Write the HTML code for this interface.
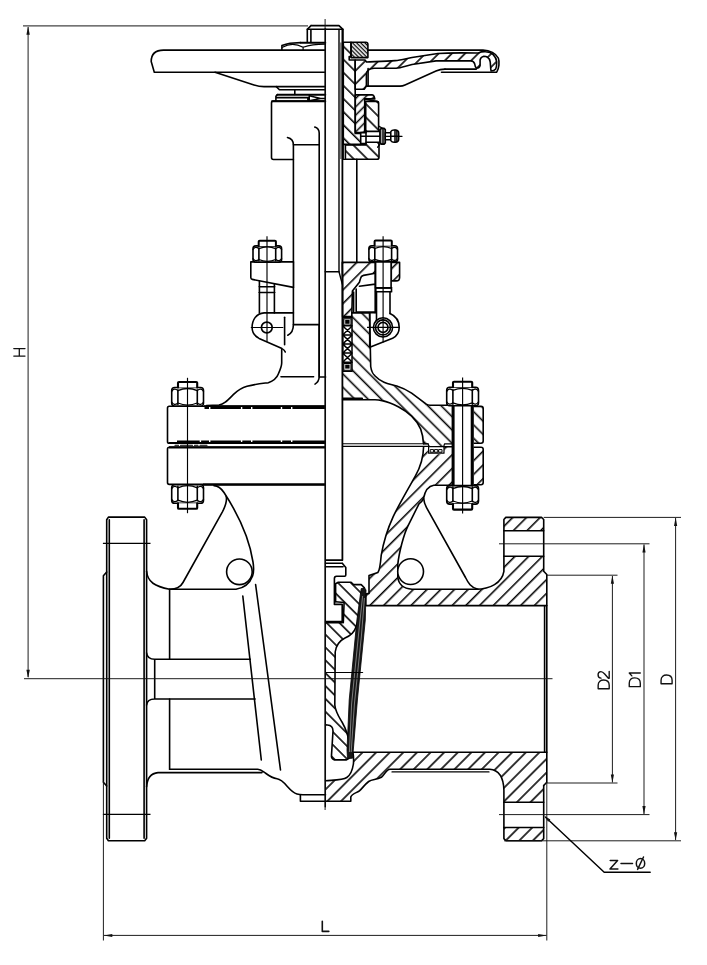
<!DOCTYPE html>
<html>
<head>
<meta charset="utf-8">
<title>Gate valve drawing</title>
<style>
html,body{margin:0;padding:0;background:#fff;}
body{width:707px;height:965px;overflow:hidden;font-family:"Liberation Sans",sans-serif;}
svg{display:block;position:absolute;left:0;top:0;}
.k{fill:none;stroke:#000;stroke-width:1.6;stroke-linecap:round;stroke-linejoin:round;}
.kw{fill:#fff;stroke:#000;stroke-width:1.6;stroke-linecap:round;stroke-linejoin:round;}
.t{fill:none;stroke:#000;stroke-width:0.85;stroke-linecap:butt;}
.tw{fill:#fff;stroke:#000;stroke-width:0.85;}
.d{fill:none;stroke:#111;stroke-width:0.95;}
.c{fill:none;stroke:#000;stroke-width:1.15;}
.dg{fill:none;stroke:#444;stroke-width:1.1;}
.ar{fill:#111;stroke:none;}
.tx{fill:none;stroke:#111;stroke-width:1.3;stroke-linecap:round;stroke-linejoin:round;}
.hs{stroke:none;}
</style>
</head>
<body>
<svg width="707" height="965" viewBox="0 0 707 965">
<defs>
<!-- "/" hatches -->
<pattern id="hF" width="9.69" height="9.69" patternUnits="userSpaceOnUse" patternTransform="rotate(45)"><line x1="1.7" y1="-1" x2="1.7" y2="11" stroke="#000" stroke-width="1.55"/></pattern>
<pattern id="hF2" width="7" height="7" patternUnits="userSpaceOnUse" patternTransform="rotate(45)"><line x1="3.5" y1="-1" x2="3.5" y2="9" stroke="#000" stroke-width="1.55"/></pattern>
<pattern id="hF3" width="5.9" height="5.9" patternUnits="userSpaceOnUse" patternTransform="rotate(45)"><line x1="2.5" y1="-1" x2="2.5" y2="8" stroke="#000" stroke-width="1.5"/></pattern>
<!-- "\" hatches -->
<pattern id="hB" width="7.2" height="7.2" patternUnits="userSpaceOnUse" patternTransform="rotate(-45)"><line x1="3.6" y1="-1" x2="3.6" y2="9" stroke="#000" stroke-width="1.55"/></pattern>
<pattern id="hB2" width="9.5" height="9.5" patternUnits="userSpaceOnUse" patternTransform="rotate(-45)"><line x1="4.75" y1="-1" x2="4.75" y2="11" stroke="#000" stroke-width="1.55"/></pattern>
<pattern id="hBd" width="2.9" height="2.9" patternUnits="userSpaceOnUse" patternTransform="rotate(-45)"><line x1="1.45" y1="-1" x2="1.45" y2="4" stroke="#000" stroke-width="1.3"/></pattern>
<pattern id="hX" width="4.4" height="4.4" patternUnits="userSpaceOnUse" patternTransform="translate(342.8 318) rotate(45)"><path d="M0,-1V6M-1,0H6" stroke="#000" stroke-width="0.9" fill="none"/></pattern>
<pattern id="hBw" width="9.4" height="9.4" patternUnits="userSpaceOnUse" patternTransform="rotate(-45)"><line x1="6.2" y1="-1" x2="6.2" y2="11" stroke="#000" stroke-width="1.55"/></pattern>
<pattern id="hFs" width="9.33" height="9.33" patternUnits="userSpaceOnUse" patternTransform="rotate(45)"><line x1="2.83" y1="-1" x2="2.83" y2="11" stroke="#000" stroke-width="1.55"/></pattern>
<pattern id="hBg" width="9.09" height="9.09" patternUnits="userSpaceOnUse" patternTransform="rotate(-45) translate(4.15 0)"><line x1="4.545" y1="-1" x2="4.545" y2="11" stroke="#000" stroke-width="1.55"/></pattern>
<pattern id="hBs" width="9.26" height="9.26" patternUnits="userSpaceOnUse" patternTransform="rotate(-45)"><line x1="6.29" y1="-1" x2="6.29" y2="11" stroke="#000" stroke-width="1.55"/></pattern>
<pattern id="hFl" width="9.62" height="9.62" patternUnits="userSpaceOnUse" patternTransform="rotate(45) translate(4.39 0)"><line x1="4.81" y1="-1" x2="4.81" y2="11" stroke="#000" stroke-width="1.55"/></pattern>
</defs>
<rect x="0" y="0" width="707" height="965" fill="#fff"/>


<!--BEGIN:TEXT-->
<g id="text" font-family="Liberation Sans, sans-serif" fill="#111">
<path class="tx" d="M13.8,348.6 H25 M13.8,356.1 H25 M19.3,348.6 V356.1"/>
<path class="tx" style="stroke-width:1.5" transform="translate(609.2,689.4) rotate(-90) scale(0.92)" d="M0.7,0 V-12 H4.4 C8.8,-12 10.2,-9.2 10.2,-6 C10.2,-2.8 8.8,0 4.4,0 Z M12.2,-8.9 C12.2,-10.9 13.7,-12.1 15.8,-12.1 C17.9,-12.1 19.3,-10.9 19.3,-9 C19.3,-7.3 18.2,-6.2 16.7,-4.9 L12.1,-0.9 V0 H19.6"/>
<path class="tx" style="stroke-width:1.5" transform="translate(640.3,687.3) rotate(-90) scale(0.92)" d="M0.7,0 V-12 H4.4 C8.8,-12 10.2,-9.2 10.2,-6 C10.2,-2.8 8.8,0 4.4,0 Z M12.4,-9.2 L15.6,-12 V0"/>
<path class="tx" style="stroke-width:1.5" transform="translate(672.1,684.4) rotate(-90) scale(0.92)" d="M0.7,0 V-12 H4.4 C8.8,-12 10.2,-9.2 10.2,-6 C10.2,-2.8 8.8,0 4.4,0 Z"/>
<path class="tx" style="stroke-width:1.6" d="M322.3,921.2 V931.4 H328.8"/>
<path class="tx" style="stroke-width:1.5" d="M610.2,860.6 H617.6 L610,869 H617.9 M621,863.4 H632.5 M637.6,869.4 L643.5,857"/>
<ellipse class="tx" style="stroke-width:1.5" cx="640.5" cy="863.4" rx="4.2" ry="4.8"/>
</g>
<!--END:TEXT-->
<!--BEGIN:LEFTFLANGE-->
<g id="leftflange">
<path class="k" d="M108.4,517.1 L144.7,517.1 L146.6,519.7 L146.6,838.2 L144.7,840.8 L108.4,840.8 L106.7,838.2 L106.7,519.7 Z"/>
<path class="k" d="M109.3,519.7 V838.2 M144.1,519.7 V838.2"/>
<path class="k" d="M106.7,572 L103.4,575.8 L103.4,782.2 L106.7,786"/>
<path class="c" d="M102.9,543.3 H150.5 M102.9,814.4 H150.5"/>
</g>
<!--END:LEFTFLANGE-->
<!--BEGIN:LEFTBODY-->
<g id="leftbody">
<!-- fillets flange/body -->
<path class="k" d="M146.6,571.3 C147.5,582 155,586.5 169.6,589.3 H236 C244,588 250,583 252.6,576 C254,572 253.8,567 253,562 C249,536 238,514 224,492.5 C221,488 218,485.8 214,485.6"/>
<path class="k" d="M146.6,786.7 C147.2,778 150.5,773.2 158,772.6 H262"/>
<!-- rib line -->
<path class="k" d="M169.6,589.3 C176,589 180,588 183,582.5 L222.4,511.9 C225.5,506 227,500 226.2,496.6"/>
<circle class="k" cx="239.4" cy="571.8" r="12.8"/>
<path class="k" d="M169.6,589.3 V659.2 M169.6,699 V769.2"/>
<!-- horizontal rib -->
<path class="k" d="M146.6,653 C147,657 150,659.2 154.7,659.2 H250.3 M146.6,705 C147,701 150,699 154.7,699 H255.1 M154.7,659.2 V699"/>
<!-- diagonal lines -->
<path class="k" d="M242.8,596 L261.3,760 M255.6,584.5 L280.5,770"/>
<!-- bottom -->
<path class="k" d="M169.6,769.2 H257.7 C261,769.4 263,771.5 266,773.5 C270,776.5 273,778.2 277,778.8 C281,779.4 283.5,782 287.1,786.2 C290.5,790 293.5,793 297,794 C299,794.6 301,794.7 303,794.7 H325.5"/>
<path class="k" d="M300.4,794.7 V801.3 H325.5"/>
</g>
<!--END:LEFTBODY-->
<!--BEGIN:RIGHTBODY-->
<g id="rightbody">
<!-- upper body section (hatched /) -->
<path id="ub" fill="url(#hF)" class="hs" d="M423.6,446.7 H453 V485.3 H433.8 C429,486 425,491 423.6,498.2 C422,502 420,503 419,503.8 L408,525.9 C404,534 399,552 397.8,564.6 V577 C398.5,584 403,588.5 412,589.2 H476 C490,589 502,583 503.9,571.3 V519.5 L505.8,517.4 H541.5 L543.7,519.5 V571.3 L546.8,574.5 V605.6 H365.8 V594 L369,593.4 V575.6 L377.9,572.4 C380,570 380.3,566 381.2,555.4 C383,545 388,528 393.2,516.7 C398,506 408,489 415.3,476.1 C421,466 423.4,458 423.6,446.7 Z"/>
<rect x="503" y="530.7" width="42" height="25.5" fill="#fff"/>
<rect x="427.8" y="447.4" width="16.4" height="6.8" fill="#fff"/>
<path class="k" d="M423.6,446.7 C423.4,458 421,466 415.3,476.1 C408,489 398,506 393.2,516.7 C388,528 383,545 381.2,555.4 C380.3,566 380,570 377.9,572.4 L369,575.6 V593.4 L365.8,594 V605.6 H546.8"/>
<path class="k" d="M451.5,485.3 H433.8 C429,486 425,491 423.6,498.2 C422,502 420,503 419,503.8 L408,525.9 C404,534 399,552 397.8,564.6 V577 C398.5,584 403,588.5 412,589.2 H476 C490,589 502,583 503.9,571.3 V519.5 L505.8,517.4 H541.5 L543.7,519.5 V571.3 L546.8,574.5 V782.2 L543.7,785.5"/>
<path class="k" d="M544.6,606 V752"/>
<path class="k" d="M503.9,530.7 H543.7 M503.9,556.2 H543.7"/>
<circle class="kw" cx="410.6" cy="571.6" r="12.9"/>
<!-- external rib right -->
<path class="k" d="M423.6,498.2 C424,502 425,505 426.4,507.4 L465.5,577.5 C468,582.5 471,588 478,589.2"/>
<!-- lower body section -->
<path fill="url(#hFl)" class="hs" d="M352.9,752.3 H546.8 V782.2 L543.7,785.5 V838.6 L541.5,840.8 H506 L503.9,838.6 V790 C503.5,777 499,770 489.7,769.2 H390 C386,769.5 385,774.5 381.4,777.3 C376,780 372,779 368.7,781.5 C364,785 362,789 359.2,791 C356,793 351.5,794 350.8,797 V801.3 H325.6 V780.8 C335,780 343,780 346.8,777.5 C350.5,775 352.5,770 353.4,764 C353.8,760 353.6,756 352.9,752.3 Z"/>
<rect x="503" y="802.3" width="42" height="25.2" fill="#fff"/>
<path class="k" d="M352.9,752.3 H546.8"/>
<path class="k" d="M543.7,785.5 V838.6 L541.5,840.8 H506 L503.9,838.6 V790 C503.5,777 499,770 489.7,769.2 H390 C386,769.5 385,774.5 381.4,777.3 C376,780 372,779 368.7,781.5 C364,785 362,789 359.2,791 C356,793 351.5,794 350.8,797 V801.3 H325.6"/>
<path class="k" d="M325.6,780.8 C335,780 343,780 346.8,777.5 C350.5,775 352.5,770 353.4,764 C353.8,760 353.6,756 352.9,752.3"/>
<path class="k" style="stroke-width:1.2" d="M392,771.9 H489"/>
<path class="k" d="M503.9,802.3 H543.7 M503.9,827.5 H543.7"/>
<!-- wedge -->
<path fill="url(#hBg)" class="hs" d="M335.6,583.8 L338.3,582.2 H351.1 L353.5,584.6 H361.2 L364.4,587.7 V601 C361,612 358,622 356,627 C354,633 350,636 345,638 C339,641 336,646 335.2,652 L334.8,705 C335.5,712 339,717 342,722 C346,729 348.5,736 349.8,745 L349,758.3 L346.5,759.9 H334.5 C332,759 331.2,757 331.5,755.1 L333,731 C333,727 331,725.2 327.5,725 H325.6 V622.7 H343.3 L344.1,602.5 L335.6,601.7 Z"/>
<path class="k" d="M335.6,601.7 V583.8 L338.3,582.2 H351.1 L353.5,584.6 H361.2 L364.4,587.7"/>
<path class="k" d="M361,603 C360,612 358,622 356,627 C354,633 350,636 345,638 C339,641 336,646 335.2,652 L334.8,705 C335.5,712 339,717 342,722 C346,729 348.5,736 349.8,745"/>
<path class="k" d="M349,758.3 L346.5,759.9 H334.5 C332,759 331.2,757 331.5,755.1 L333,731 C333,727 331,725.2 327.5,725 H325.6"/>
<path class="k" d="M335.6,601.7 L344.1,602.5 L343.3,622.7"/>
<!-- seat band -->
<path fill="#161616" stroke="#000" stroke-width="0.8" stroke-linejoin="round" d="M361.2,588.6 L364.6,587.8 L366,590 L365.3,620 L357.4,700 L353.3,750 L352.5,758.2 L347.5,758.6 L347,750 L349.2,700 L356.9,620 Z"/>
<path fill="none" stroke="#a0a0a0" stroke-width="0.75" d="M362.6,596 L358.6,634 L351.6,704 L349.4,752 M364.4,598 L361.4,636 L354.4,704 L351.2,752"/>
<!-- stem head -->
<path class="k" d="M342.3,560.1 H325.6 M342.3,563.3 H325.6 M343,566.8 H325.6 M342.3,563.3 L345.8,567.5 V575 C345.8,575.8 345.4,576.2 344.6,576.2 H336.5 C335,576.3 334.4,577 334.4,578.5 V604.4 H342.2 V622.7 H325.6"/>
<path class="k" d="M325.6,621.6 H342.2"/>
<path class="k" style="stroke-width:1.2" d="M326,672.5 H362.6"/>
</g>
<!--END:RIGHTBODY-->
<!--BEGIN:BONNET-->
<g id="bonnet">
<!-- ===== right: section ===== -->
<path fill="url(#hBw)" class="hs" d="M351.8,312.8 H369.6 L370.7,366.5 C371.5,372 373,374 374.8,375.7 C378,379 381,381 384,382.2 C388,384 392,384.5 396.8,385.9 C402,387.5 407,390 411.6,393.2 L426.3,404.2 C427.5,405 428.5,405.2 430,405.2 H453 V443.8 H444.6 L443.7,446.5 H429 L428.1,443.8 H423.5 C423.3,438 422.5,434 420.7,429.1 C418.5,424 415.5,420 411.6,416.2 C407.5,412.3 403.5,409.5 398.7,407 C393.5,404.2 388,401.8 382.1,400.6 C379.5,400 377,399.7 375,399.7 H342.6 V371.4 H351.8 Z"/>
<path class="k" d="M351.8,312.8 H369.6 L370.7,366.5 C371.5,372 373,374 374.8,375.7 C378,379 381,381 384,382.2 C388,384 392,384.5 396.8,385.9 C402,387.5 407,390 411.6,393.2 L426.3,404.2 C427.5,405 428.5,405.2 430,405.2 H447"/>
<path class="k" d="M342.6,399.7 H375 C377,399.7 379.5,400 382.1,400.6 C388,401.8 393.5,404.2 398.7,407 C403.5,409.5 407.5,412.3 411.6,416.2 C415.5,420 418.5,424 420.7,429.1 C422.5,434 423.3,438 423.5,443.8"/>
<path class="k" style="stroke-width:2.2" d="M343,398.6 H362"/>
<!-- gasket / flange joint -->
<path class="k" style="stroke-width:1.1" d="M342.6,443.8 H428.1 M342.6,446.4 H428.5"/>
<path class="k" style="stroke-width:1.2" d="M423.5,443.8 H428.1 L429,446.5 H443.7 L444.6,443.8 H453"/>
<path class="kw" style="stroke-width:1.2" d="M428.6,446.6 H444 V453.2 H428.6 Z"/>
<path class="k" style="stroke-width:1" d="M430.6,449.6 H433.6 V452.2 H430.6 Z M434.8,449.6 H437.8 V452.2 H434.8 Z M439,449.6 H442 V452.2 H439 Z"/>
<path class="k" d="M444,446.7 H453"/>
<!-- right flange pieces beyond bolt -->
<path fill="url(#hBw)" stroke="#000" stroke-width="1.6" stroke-linejoin="round" d="M473,406.4 H481 Q483.2,406.4 483.2,408.6 V441 Q483.2,443.2 481,443.2 H473 Z"/>
<path fill="url(#hF)" stroke="#000" stroke-width="1.6" stroke-linejoin="round" d="M473,447.2 H481 Q483.2,447.2 483.2,449.4 V482.6 Q483.2,484.8 481,484.8 H473 Z"/>
<!-- right bolt -->
<rect x="452" y="405" width="21.5" height="81" fill="#fff"/>
<path class="k" style="stroke-width:3;stroke-linecap:butt" d="M453.1,405.6 V485 M472.2,405.6 V485"/>
<g transform="translate(462.6,405.8)">
<path class="kw" d="M-15.9,-3 V-15.4 Q-15.9,-18.5 -12.9,-18.5 H12.9 Q15.9,-18.5 15.9,-15.4 V-3 Q15.9,0 12.9,0 H-12.9 Q-15.9,0 -15.9,-3 Z"/>
<path class="k" d="M-9.7,-1.5 V-16 M9.7,-1.5 V-16"/>
<path class="k" style="stroke-width:1.3" d="M-9.7,-15.4 Q0,-19.6 9.7,-15.4 M-9.7,-3 Q0,1.2 9.7,-3 M-15.9,-14.5 Q-13.5,-18.6 -9.7,-15.4 M15.9,-14.5 Q13.5,-18.6 9.7,-15.4 M-15.9,-4 Q-13.5,0.2 -9.7,-3 M15.9,-4 Q13.5,0.2 9.7,-3"/>
<path class="kw" style="stroke-width:2.1" d="M-9.6,-18.5 V-23.2 Q-9.6,-24 -8.6,-24 H8.6 Q9.6,-24 9.6,-23.2 V-18.5"/>
</g>
<g transform="translate(462.6,485.6) scale(1,-1)">
<path class="kw" d="M-15.9,-3 V-15.4 Q-15.9,-18.5 -12.9,-18.5 H12.9 Q15.9,-18.5 15.9,-15.4 V-3 Q15.9,0 12.9,0 H-12.9 Q-15.9,0 -15.9,-3 Z"/>
<path class="k" d="M-9.7,-1.5 V-16 M9.7,-1.5 V-16"/>
<path class="k" style="stroke-width:1.3" d="M-9.7,-15.4 Q0,-19.6 9.7,-15.4 M-9.7,-3 Q0,1.2 9.7,-3 M-15.9,-14.5 Q-13.5,-18.6 -9.7,-15.4 M15.9,-14.5 Q13.5,-18.6 9.7,-15.4 M-15.9,-4 Q-13.5,0.2 -9.7,-3 M15.9,-4 Q13.5,0.2 9.7,-3"/>
<path class="kw" style="stroke-width:2.1" d="M-9.6,-18.5 V-23.2 Q-9.6,-24 -8.6,-24 H8.6 Q9.6,-24 9.6,-23.2 V-18.5"/>
</g>
<path class="c" d="M462.6,377.5 V513.5"/>

<!-- ===== left: external ===== -->
<path class="kw" d="M325.3,406.2 H169.3 Q167.5,406.2 167.5,408 V441.4 Q167.5,443.2 169.3,443.2 H325.3"/>
<path class="kw" d="M325.3,447.3 H169.3 Q167.5,447.3 167.5,449.1 V482.6 Q167.5,484.4 169.3,484.4 H325.3"/>
<path class="k" style="stroke-width:1.9;stroke-linecap:butt" d="M204,406.1 H325.3"/>
<path class="k" style="stroke-width:1.9;stroke-linecap:butt" d="M204.5,408.0 H209.0 M210.4,408.0 H240.9 M242.3,408.0 H251.0 M252.4,408.0 H280.8 M282.2,408.0 H291.0 M292.4,408.0 H325.3"/>
<path class="k" style="stroke-width:1.8;stroke-linecap:butt" d="M169,443 H325.3"/>
<path class="k" style="stroke-width:1.8;stroke-linecap:butt" d="M177.0,441.3 H199.7 M201.1,441.3 H209.0 M210.4,441.3 H240.9 M242.3,441.3 H251.0 M252.4,441.3 H280.8 M282.2,441.3 H291.0 M292.4,441.3 H325.3"/>
<path class="k" style="stroke-width:1.1" d="M175,445.3 H207" stroke-dasharray="3.5 2 12 2"/>
<path class="k" style="stroke-width:2.4;stroke-linecap:butt" d="M203,484.6 H325.3"/>
<path class="k" style="stroke-width:2.2;stroke-linecap:butt" d="M169,447.4 H325.3"/>
<g transform="translate(187.6,406)">
<path class="kw" d="M-15.9,-3 V-15.4 Q-15.9,-18.5 -12.9,-18.5 H12.9 Q15.9,-18.5 15.9,-15.4 V-3 Q15.9,0 12.9,0 H-12.9 Q-15.9,0 -15.9,-3 Z"/>
<path class="k" d="M-9.7,-1.5 V-16 M9.7,-1.5 V-16"/>
<path class="k" style="stroke-width:1.3" d="M-9.7,-15.4 Q0,-19.6 9.7,-15.4 M-9.7,-3 Q0,1.2 9.7,-3 M-15.9,-14.5 Q-13.5,-18.6 -9.7,-15.4 M15.9,-14.5 Q13.5,-18.6 9.7,-15.4 M-15.9,-4 Q-13.5,0.2 -9.7,-3 M15.9,-4 Q13.5,0.2 9.7,-3"/>
<path class="kw" style="stroke-width:2.1" d="M-9.6,-18.5 V-23.2 Q-9.6,-24 -8.6,-24 H8.6 Q9.6,-24 9.6,-23.2 V-18.5"/>
</g>
<g transform="translate(187.6,484.8) scale(1,-1)">
<path class="kw" d="M-15.9,-3 V-15.4 Q-15.9,-18.5 -12.9,-18.5 H12.9 Q15.9,-18.5 15.9,-15.4 V-3 Q15.9,0 12.9,0 H-12.9 Q-15.9,0 -15.9,-3 Z"/>
<path class="k" d="M-9.7,-1.5 V-16 M9.7,-1.5 V-16"/>
<path class="k" style="stroke-width:1.3" d="M-9.7,-15.4 Q0,-19.6 9.7,-15.4 M-9.7,-3 Q0,1.2 9.7,-3 M-15.9,-14.5 Q-13.5,-18.6 -9.7,-15.4 M15.9,-14.5 Q13.5,-18.6 9.7,-15.4 M-15.9,-4 Q-13.5,0.2 -9.7,-3 M15.9,-4 Q13.5,0.2 9.7,-3"/>
<path class="kw" style="stroke-width:2.1" d="M-9.6,-18.5 V-23.2 Q-9.6,-24 -8.6,-24 H8.6 Q9.6,-24 9.6,-23.2 V-18.5"/>
</g>
<path class="c" d="M187.5,377.8 V513.2"/>
<!-- bonnet dome left -->
<path class="k" d="M206.6,405.6 L219,405 C224,404.3 227,401 233,394.9 C238,390 242,387.6 247,386.3 C256,384 262,383.5 268.3,382.7 C274,380.5 277,377.5 278.2,374.2 C280.5,369 281.7,366 281.7,362.9 V349.5"/>
<path class="k" d="M281,376.8 H313.6"/>
<path class="k" d="M319.2,324.7 V377 C319,380 317.8,382.5 315,384.1 M319.2,377 H325.6"/>
</g>
<!--END:BONNET-->
<!--BEGIN:YOKE-->
<g id="yoke">
<!-- main centre/section line -->
<path class="k" style="stroke-width:1.45" d="M325.3,28.6 V806.7"/>
<!-- stem right -->
<path class="k" style="stroke-width:1.4" d="M339,29.4 V271.8 L342.3,284.1"/>
<path class="t" style="stroke-width:0.8" d="M340.9,42.5 V159"/>
<path class="k" style="stroke-width:1.8" d="M342.4,29.4 V560.1"/>
<path class="k" d="M325.3,271.8 H339.1"/>
<path class="k" d="M319.2,377 V133 Q319.2,128.6 314.8,127.1"/>
<!-- ===== left yoke (external) ===== -->
<path class="k" d="M325.3,101 H273.5 Q271.5,101 271.5,103 V157.5 Q271.5,159.5 273.5,159.5 H293.4"/>
<path class="k" d="M287.5,137.5 Q293.4,139 293.4,144.8 H319.2"/>
<path class="k" d="M293.4,144.8 V324.5 C293.4,330 291.5,333.5 287.8,335.2"/>
<path class="k" d="M293.4,324.6 H319.2"/>
<!-- left gland flange + bolt -->
<path class="kw" d="M293.4,261.9 H250.8 V277.6 Q250.8,279.1 252.3,279.4 L293.4,287.4"/>
<path class="k" d="M259.4,281 V312.9 M274.4,283.8 V312.9 M259,286.7 H274.8 M259,292.5 H274.8"/>
<g transform="translate(267.3,262.1)">
<path class="kw" d="M-14.3,-2.6 V-13.4 Q-14.3,-16.2 -11.5,-16.2 H11.5 Q14.3,-16.2 14.3,-13.4 V-2.6 Q14.3,0 11.5,0 H-11.5 Q-14.3,0 -14.3,-2.6 Z"/>
<path class="k" d="M-8.4,-1.3 V-14 M8.4,-1.3 V-14"/>
<path class="k" style="stroke-width:1.3" d="M-8.4,-13.4 Q0,-17.2 8.4,-13.4 M-8.4,-2.6 Q0,1 8.4,-2.6 M-14.3,-12.6 Q-12,-16.3 -8.4,-13.4 M14.3,-12.6 Q12,-16.3 8.4,-13.4 M-14.3,-3.4 Q-12,0.2 -8.4,-2.6 M14.3,-3.4 Q12,0.2 8.4,-2.6"/>
<path class="kw" style="stroke-width:2" d="M-8.6,-16.2 V-20.6 Q-8.6,-21.4 -7.6,-21.4 H7.6 Q8.6,-21.4 8.6,-20.6 V-16.2"/>
</g>
<path class="k" d="M293.4,261.9 V287.4"/>
<path class="k" d="M293.4,312.9 H264.2 C256,313.5 252.1,320 252.1,327.5 C252.1,332.5 254.5,336 259.1,338.4 L282,348.6 Q284.5,349.8 285.3,352"/>
<circle class="k" style="stroke-width:1.7" cx="266.8" cy="327.5" r="5.4"/>
<path class="c" d="M267,236.2 V341.7 M250.8,327.5 H283.3"/>
<path class="k" d="M284.6,317.3 V344.7"/>
<!-- ===== right: bearing housing etc (section) ===== -->
<!-- sleeve (stem nut) -->
<path fill="url(#hBs)" stroke="#000" stroke-width="1.6" stroke-linejoin="round" d="M343.3,42.2 H351 V56.6 H349.2 V60 H355.2 V133.5 H360.8 V144.4 H343.3 Z"/>
<!-- locknut -->
<path fill="url(#hBd)" stroke="#000" stroke-width="1.6" stroke-linejoin="round" d="M351,42.2 H365.8 Q367.9,42.2 367.9,44.3 V57.6 H351 Z"/>
<!-- inner bearing piece -->
<path fill="url(#hF3)" stroke="#000" stroke-width="1.6" stroke-linejoin="round" d="M355.3,94.9 H372.2 Q373.8,95 374.2,96.6 L374.8,98.9 H364.7 V132.6 H355.3 Z"/>
<!-- housing cup -->
<path fill="url(#hB2)" stroke="#000" stroke-width="1.6" stroke-linejoin="round" d="M365.7,101.4 H376.8 Q378.6,101.4 378.6,103.2 V129.6 H379 V157.2 Q379,159.3 376.9,159.3 H345.4 V144.9 H365.7 Z"/>
<path class="k" style="stroke-width:1.2" d="M343.3,144.4 V159.3 H345.4"/>
<path class="k" d="M364.7,98.9 L378,101.8"/>
<!-- grease nipple -->
<path class="kw" d="M360.7,132.6 H366 V131.4 H380.1 V142.3 H366 V143.6 H360.7 Z"/>
<path class="k" d="M366,131.4 V142.3 M361,136.3 H380.1"/>
<path class="k" style="stroke-width:1.3" d="M378.6,126 L384.2,129.4 M380.1,144.1 L377.6,147.2"/>
<path class="kw" d="M380.1,129.6 L381.4,128.4 H384.1 L385.3,129.6 V142.9 L384.1,144.1 H381.4 L380.1,142.9 Z"/>
<path class="k" style="stroke-width:1.1" d="M382.2,128.6 V143.9 M383.8,128.6 V143.9"/>
<path class="kw" style="stroke-width:1.4" d="M385.3,132.8 H390.8 V139.8 H385.3 Z"/>
<path class="k" style="stroke-width:1.3" d="M385.3,136.3 H402"/>
<path class="kw" style="stroke-width:1.5" d="M390.8,131.6 Q391.8,130 394,130 H395.8 Q398.7,130.4 398.7,133 V139.2 Q398.7,141.8 395.8,142.2 H394 Q391.8,142.2 390.8,140.6 Z"/>
<path class="k" style="stroke-width:1.5" d="M395,130.2 V142 M396.9,130.4 V141.8 M390.8,136.3 H398.7"/>
<!-- right yoke arm -->
<path class="k" d="M356.8,159.3 V262.3"/>
<!-- ===== gland (section) ===== -->
<path fill="url(#hF)" stroke="#000" stroke-width="1.6" stroke-linejoin="round" d="M342.3,262.4 H375.2 V273.2 L363.5,275.4 Q361,276 360.5,278.5 L359.4,282.2 L352.4,291 L351.8,316.6 H342.6 V284.1 Z"/>
<path fill="url(#hF)" stroke="#000" stroke-width="1.6" stroke-linejoin="round" d="M391.3,262.4 H399.6 V277.5 Q399.6,280.9 396.2,280.9 H391.3 Z"/>
<!-- boss box behind gland -->
<path class="k" d="M359.4,286.2 L375.2,284.1 M375.2,273.2 V312.8 M356.2,289 V312.1 H375.2 M353.6,292 V312.1"/>
<path class="k" d="M351.8,312.8 H375.2"/>
<!-- right eyebolt -->
<path class="kw" d="M375.6,262.4 V287.9 H391.1 V262.4"/>
<path class="k" d="M375.6,287.9 H391.7 M375.6,291.7 H391.7 M375.8,287.9 V291.7 M391.5,287.9 V291.7"/>
<path class="k" d="M376.5,291.7 V320.6 M390,291.7 V313.6"/>
<g transform="translate(383.2,261.9)">
<path class="kw" d="M-14.3,-2.6 V-13.4 Q-14.3,-16.2 -11.5,-16.2 H11.5 Q14.3,-16.2 14.3,-13.4 V-2.6 Q14.3,0 11.5,0 H-11.5 Q-14.3,0 -14.3,-2.6 Z"/>
<path class="k" d="M-8.4,-1.3 V-14 M8.4,-1.3 V-14"/>
<path class="k" style="stroke-width:1.3" d="M-8.4,-13.4 Q0,-17.2 8.4,-13.4 M-8.4,-2.6 Q0,1 8.4,-2.6 M-14.3,-12.6 Q-12,-16.3 -8.4,-13.4 M14.3,-12.6 Q12,-16.3 8.4,-13.4 M-14.3,-3.4 Q-12,0.2 -8.4,-2.6 M14.3,-3.4 Q12,0.2 8.4,-2.6"/>
<path class="kw" style="stroke-width:2" d="M-8.6,-16.2 V-20.6 Q-8.6,-21.4 -7.6,-21.4 H7.6 Q8.6,-21.4 8.6,-20.6 V-16.2"/>
</g>
<path class="k" d="M390,313.4 C396,316 399.2,321.5 399.2,327.4 C399.2,332 396.5,336.2 392.6,338.3 L369.8,347.2"/>
<circle class="k" cx="383" cy="327.4" r="9.6"/>
<circle class="k" cx="383" cy="327.4" r="7.5"/>
<circle class="k" cx="383" cy="327.4" r="5"/>
<path class="c" d="M383.1,236.3 V342.5 M367,327.4 H399.5"/>
<!-- packing -->
<path fill="#fff" stroke="#000" stroke-width="1.5" d="M342.9,317.6 H352 V371.3 H342.9 Z"/>
<path class="k" style="stroke-width:1.5" d="M343,325.8 H352 M343.6,326.7 L351.4,334.0 M351.4,326.7 L343.6,334.0 M343,334.9 H352 M343.6,335.8 L351.4,343.1 M351.4,335.8 L343.6,343.1 M343,344.0 H352 M343.6,344.9 L351.4,352.2 M351.4,344.9 L343.6,352.2 M343,353.1 H352 M343.6,354.0 L351.4,361.3 M351.4,354.0 L343.6,361.3 M343,362.2 H352"/>
<rect x="345.2" y="319.8" width="4.4" height="4" fill="#000"/>
<rect x="345.2" y="364.6" width="4.4" height="4" fill="#000"/>
<path class="k" style="stroke-width:1.1" d="M343.8,318.7 H351 V325 H343.8 Z M343.8,363.4 H351 V370.2 H343.8 Z"/>
<path class="k" d="M369.7,312.8 V347.5"/>
</g>
<!--END:YOKE-->
<!--BEGIN:HANDWHEEL-->
<g id="handwheel">
<!-- ===== left external ===== -->
<!-- stem top / nut -->
<path class="k" d="M311,25.6 H339 L342.9,29.4 V42.2 M307.3,42.2 V29.4 L311,25.6"/>
<path class="k" d="M307.3,29.2 H342.9 M310.9,29.4 V42.2"/>
<!-- handwheel nut -->
<path class="k" style="stroke-width:1.9" d="M300.5,42.8 H325.3"/>
<path class="k" d="M281.9,50.2 V45.6 Q286,43.8 290,43.2 L300.5,42.6"/>
<path class="k" style="stroke-width:1.2" d="M282.5,47.2 Q292.5,41.4 303.1,47.2 Q312,44.2 325,44.1 M303.1,47.2 V50.2"/>
<!-- rim -->
<path class="k" d="M325.3,50.1 H163.5 Q151.2,50.2 151.2,61.5 L154.3,72.2 H325.3"/>
<path class="k" d="M215,72.2 L254,84.9 Q259,86.6 264,86.6 H325.3"/>
<path class="k" d="M276.3,86.6 L279.4,89.7 H325.3 M294.8,89.7 V94.5"/>
<!-- washer under hub -->
<path class="k" style="stroke-width:1.9" d="M277.3,94.7 H325.3 M272,101.2 H325.3"/>
<path class="k" d="M277.3,94.7 L275.9,96.3 V101 M276.3,97.6 H307.9 V100.2 M309.2,95.8 V100.7 M309.2,95.8 L320.6,98.5 L309.2,100.7 M320.6,98.5 H325.3"/>
<!-- ===== right: section ===== -->
<!-- far rim outline -->
<path class="k" d="M367.9,50.1 H483 C490,50.2 496,53.5 498.3,58 C499.8,62 499,68.5 496.7,72.2 H441.5"/>
<path class="k" d="M445,69.1 H476.4"/>
<!-- hub + spoke + rim section -->
<path fill="url(#hFs)" stroke="#000" stroke-width="1.6" stroke-linejoin="round" d="M355.2,60 H365 L366.5,62 C375,61.6 386,61.3 395,60.6 C401,60 406,58.6 412,57.5 L437.8,53.5 C450,52.5 465,52.8 478.3,53 C480.5,52 483,51.5 485.6,51.7 C489,51.8 491.5,52.8 493,54.4 C495.5,57 496.6,59.5 496.7,61.8 C496.8,65 496.4,67.5 495.7,69.1 C494.5,70.6 492.5,71 491.1,71 C490.4,68 490.6,64.5 490.2,61.8 C489.8,59.5 488.8,58 487.5,57.2 C486.4,56.5 485,56.3 483.8,56.3 C482,56.8 480.5,58 480.1,59.9 V65.5 C479.5,67.5 478,68.3 476.4,68.2 C475.2,67 474.9,65.5 474.6,63.6 C474,62 472.8,61 470.9,60.9 H436 L412,64.5 C406,65.8 401,68 396.2,68.2 H374 C369,68.4 366.8,70 366.4,74 V86 L364.2,89.3 H355.2 Z"/>
<!-- lower spoke outline (far side) -->
<path class="k" d="M368.1,68.5 V86.1 H400 C402,86.1 403,85.9 405,85 L436,71 C439,69.6 441,69.1 445,69.1"/>
<path class="k" d="M366.4,86.1 H368.1"/>
</g>
<!--END:HANDWHEEL-->
<!-- ===================== DIMENSIONS ===================== -->
<g id="dims">
<line class="dg" x1="23" y1="25.9" x2="308" y2="25.9"/>
<line class="d" x1="28.1" y1="27" x2="28.1" y2="677"/>
<path class="ar" d="M28.1,26.4 L29.8,34.8 L26.4,34.8 Z"/>
<path class="ar" d="M28.1,678.2 L29.8,669.8 L26.4,669.8 Z"/>
<line class="d" x1="24" y1="678.7" x2="552.5" y2="678.7"/>
<line class="d" x1="325.1" y1="19" x2="325.1" y2="810"/>
<!-- L -->
<line class="d" x1="103.4" y1="781" x2="103.4" y2="940.5"/>
<line class="d" x1="546.8" y1="782" x2="546.8" y2="940.5"/>
<line class="d" x1="104" y1="935.4" x2="546.5" y2="935.4"/>
<path class="ar" d="M103.8,935.4 L112.3,933.9 L112.3,936.9 Z"/>
<path class="ar" d="M546.6,935.4 L538.1,933.9 L538.1,936.9 Z"/>
<!-- D -->
<line class="d" x1="543.7" y1="517.4" x2="681" y2="517.4"/>
<line class="d" x1="504" y1="840.8" x2="681" y2="840.8"/>
<line class="d" x1="675.6" y1="518" x2="675.6" y2="840"/>
<path class="ar" d="M675.6,517.6 L677.2,526 L674,526 Z"/>
<path class="ar" d="M675.6,840.6 L677.2,832.2 L674,832.2 Z"/>
<!-- D1 -->
<line class="d" x1="499" y1="543.8" x2="649.5" y2="543.8"/>
<line class="d" x1="499" y1="814.6" x2="649.5" y2="814.6"/>
<line class="d" x1="644" y1="544.5" x2="644" y2="814"/>
<path class="ar" d="M644,544 L645.6,552.4 L642.4,552.4 Z"/>
<path class="ar" d="M644,814.4 L645.6,806 L642.4,806 Z"/>
<!-- D2 -->
<line class="d" x1="546.8" y1="575.2" x2="617.5" y2="575.2"/>
<line class="d" x1="546.8" y1="783" x2="617.5" y2="783"/>
<line class="d" x1="612.4" y1="576" x2="612.4" y2="782.4"/>
<path class="ar" d="M612.4,575.4 L614,583.8 L610.8,583.8 Z"/>
<path class="ar" d="M612.4,782.8 L614,774.4 L610.8,774.4 Z"/>
<!-- leader -->
<path class="k" style="stroke-width:1.45" d="M545.6,817.2 L604.2,872.3 L650.2,872.3"/>
<path class="ar" d="M544.4,816 L550.4,819.5 L548.2,821.8 Z"/>
</g>
</svg>
</body>
</html>
